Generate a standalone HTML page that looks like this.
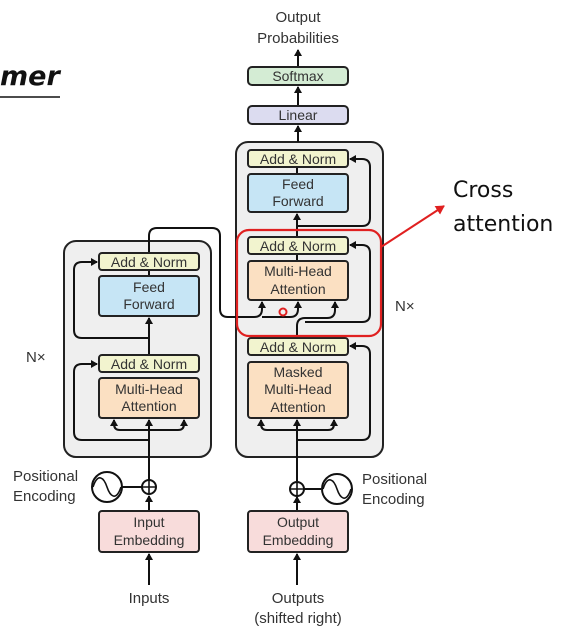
<!DOCTYPE html>
<html><head><meta charset="utf-8"><style>
html,body{margin:0;padding:0;background:#fff;}
svg{display:block;}
text{font-family:"Liberation Sans",sans-serif;fill:#333;}
</style></head><body>
<svg width="577" height="633" viewBox="0 0 577 633" xmlns="http://www.w3.org/2000/svg">
<defs>
<marker id="ah" markerWidth="8" markerHeight="8" refX="6" refY="4" orient="auto" markerUnits="userSpaceOnUse">
<path d="M0,0 L7,4 L0,8 Z" fill="#111"/></marker>
<marker id="rh" markerWidth="10" markerHeight="10" refX="8" refY="5" orient="auto" markerUnits="userSpaceOnUse">
<path d="M0,0 L9,5 L0,10 Z" fill="#e02020"/></marker>
</defs>
<rect width="577" height="633" fill="#fff"/>
<text x="0" y="85" style="font-family:'DejaVu Sans',sans-serif;font-weight:bold;font-style:italic;font-size:27px;fill:#111">mer</text>
<line x1="0" y1="97" x2="60" y2="97" stroke="#111" stroke-width="1.5"/>

<rect x="64" y="241" width="147" height="216" rx="12" fill="#efefef" stroke="#222" stroke-width="2"/>
<rect x="236" y="142" width="147" height="315" rx="12" fill="#efefef" stroke="#222" stroke-width="2"/>

<g stroke="#111" stroke-width="2" fill="none">
<line x1="298" y1="142" x2="298" y2="126" marker-end="url(#ah)"/>
<line x1="298" y1="106" x2="298" y2="87" marker-end="url(#ah)"/>
<line x1="298" y1="67" x2="298" y2="50" marker-end="url(#ah)"/>
<line x1="149" y1="585" x2="149" y2="554" marker-end="url(#ah)"/>
<line x1="149" y1="511" x2="149" y2="496" marker-end="url(#ah)"/>
<line x1="149" y1="480" x2="149" y2="420"/>
<path d="M149,440 H82 Q74,440 74,432 V372 Q74,364 82,364 H97" marker-end="url(#ah)"/>
<path d="M149,430 H120 Q114,430 114,424 V420" marker-end="url(#ah)"/>
<path d="M149,430 H178 Q184,430 184,424 V420" marker-end="url(#ah)"/>
<line x1="149" y1="430" x2="149" y2="420" marker-end="url(#ah)"/>
<line x1="149" y1="355" x2="149" y2="318" marker-end="url(#ah)"/>
<path d="M149,338 H82 Q74,338 74,330 V270 Q74,262 82,262 H97" marker-end="url(#ah)"/>
<line x1="149" y1="276" x2="149" y2="270"/>
<path d="M149,253 V236 Q149,228 157,228 H212 Q220,228 220,236 V309 Q220,317 228,317 H254 Q262,317 262,309 V302" marker-end="url(#ah)"/>
<path d="M262,317 H290 Q298,317 298,309 V302" marker-end="url(#ah)"/>
<line x1="297" y1="585" x2="297" y2="554" marker-end="url(#ah)"/>
<line x1="297" y1="511" x2="297" y2="497" marker-end="url(#ah)"/>
<line x1="297" y1="481" x2="297" y2="420"/>
<path d="M297,440 H362 Q370,440 370,432 V354 Q370,346 362,346 H350" marker-end="url(#ah)"/>
<path d="M297,430 H267 Q261,430 261,424 V420" marker-end="url(#ah)"/>
<path d="M297,430 H328 Q334,430 334,424 V420" marker-end="url(#ah)"/>
<line x1="297" y1="430" x2="297" y2="420" marker-end="url(#ah)"/>
<path d="M297,338 V326 Q297,318 305,318 H327 Q335,318 335,310 V302" marker-end="url(#ah)"/>
<path d="M305,322 H362 Q370,322 370,314 V253 Q370,245 362,245 H350" marker-end="url(#ah)"/>
<line x1="297" y1="236" x2="297" y2="214" marker-end="url(#ah)"/>
<path d="M297,226 H362 Q370,226 370,218 V167 Q370,159 362,159 H350" marker-end="url(#ah)"/>
<line x1="297" y1="174" x2="297" y2="167"/>
<line x1="297" y1="261" x2="297" y2="254"/>
<line x1="122" y1="487" x2="142" y2="487"/>
<line x1="304" y1="489" x2="321" y2="489"/>
</g>

<g stroke="#222" stroke-width="2">
<rect x="248" y="67" width="100" height="18" rx="4" fill="#d4ecd4"/>
<rect x="248" y="106" width="100" height="18" rx="4" fill="#dcdcf0"/>
<rect x="99" y="253" width="100" height="17" rx="3" fill="#f2f4cf"/>
<rect x="99" y="276" width="100" height="40" rx="3" fill="#c6e5f5"/>
<rect x="99" y="355" width="100" height="17" rx="3" fill="#f2f4cf"/>
<rect x="99" y="378" width="100" height="40" rx="3" fill="#fbe0c2"/>
<rect x="248" y="150" width="100" height="17" rx="3" fill="#f2f4cf"/>
<rect x="248" y="174" width="100" height="38" rx="3" fill="#c6e5f5"/>
<rect x="248" y="237" width="100" height="17" rx="3" fill="#f2f4cf"/>
<rect x="248" y="261" width="100" height="39" rx="3" fill="#fbe0c2"/>
<rect x="248" y="338" width="100" height="17" rx="3" fill="#f2f4cf"/>
<rect x="248" y="362" width="100" height="56" rx="3" fill="#fbe0c2"/>
<rect x="99" y="511" width="100" height="41" rx="3" fill="#f8dcdb"/>
<rect x="248" y="511" width="100" height="41" rx="3" fill="#f8dcdb"/>
</g>
<g stroke="#111" stroke-width="2" fill="#fff">
<circle cx="107" cy="487" r="15"/>
<circle cx="149" cy="487" r="7"/>
<circle cx="337" cy="489" r="15"/>
<circle cx="297" cy="489" r="7"/>
</g>
<g stroke="#111" stroke-width="1.6" fill="none">
<path d="M93,487 C98,472 104,478 107,487 C110,496 116,502 121,487"/>
<path d="M323,489 C328,474 334,480 337,489 C340,498 346,504 351,489"/>
<path d="M142,487 H156 M149,480 V494"/>
<path d="M290,489 H304 M297,482 V496"/>
</g>

<g font-size="14" text-anchor="middle">
<text x="298" y="22" font-size="15">Output</text>
<text x="298" y="43" font-size="15">Probabilities</text>
<text x="298" y="81">Softmax</text>
<text x="298" y="120">Linear</text>
<text x="149" y="267">Add &amp; Norm</text>
<text x="149" y="292">Feed</text>
<text x="149" y="309">Forward</text>
<text x="149" y="369">Add &amp; Norm</text>
<text x="149" y="394">Multi-Head</text>
<text x="149" y="411">Attention</text>
<text x="298" y="164">Add &amp; Norm</text>
<text x="298" y="189">Feed</text>
<text x="298" y="206">Forward</text>
<text x="298" y="251">Add &amp; Norm</text>
<text x="298" y="276">Multi-Head</text>
<text x="298" y="294">Attention</text>
<text x="298" y="352">Add &amp; Norm</text>
<text x="298" y="377">Masked</text>
<text x="298" y="394">Multi-Head</text>
<text x="298" y="412">Attention</text>
<text x="149" y="527">Input</text>
<text x="149" y="545">Embedding</text>
<text x="298" y="527">Output</text>
<text x="298" y="545">Embedding</text>
<text x="149" y="603" font-size="15">Inputs</text>
<text x="298" y="603" font-size="15">Outputs</text>
<text x="298" y="623" font-size="15">(shifted right)</text>
</g>
<g font-size="15">
<text x="13" y="481">Positional</text>
<text x="13" y="501">Encoding</text>
<text x="362" y="484">Positional</text>
<text x="362" y="504">Encoding</text>
<text x="26" y="362">N×</text>
<text x="395" y="311">N×</text>
</g>

<rect x="237" y="230" width="144" height="106" rx="12" fill="none" stroke="#e02020" stroke-width="2.2"/>
<line x1="381" y1="247" x2="444" y2="206" stroke="#e02020" stroke-width="2" marker-end="url(#rh)"/>
<circle cx="283" cy="312" r="3.5" fill="none" stroke="#e02020" stroke-width="2"/>
<text x="453" y="197" style="font-family:'DejaVu Sans',sans-serif;font-size:22px;fill:#111">Cross</text>
<text x="453" y="231" style="font-family:'DejaVu Sans',sans-serif;font-size:22px;fill:#111">attention</text>
</svg>
</body></html>
